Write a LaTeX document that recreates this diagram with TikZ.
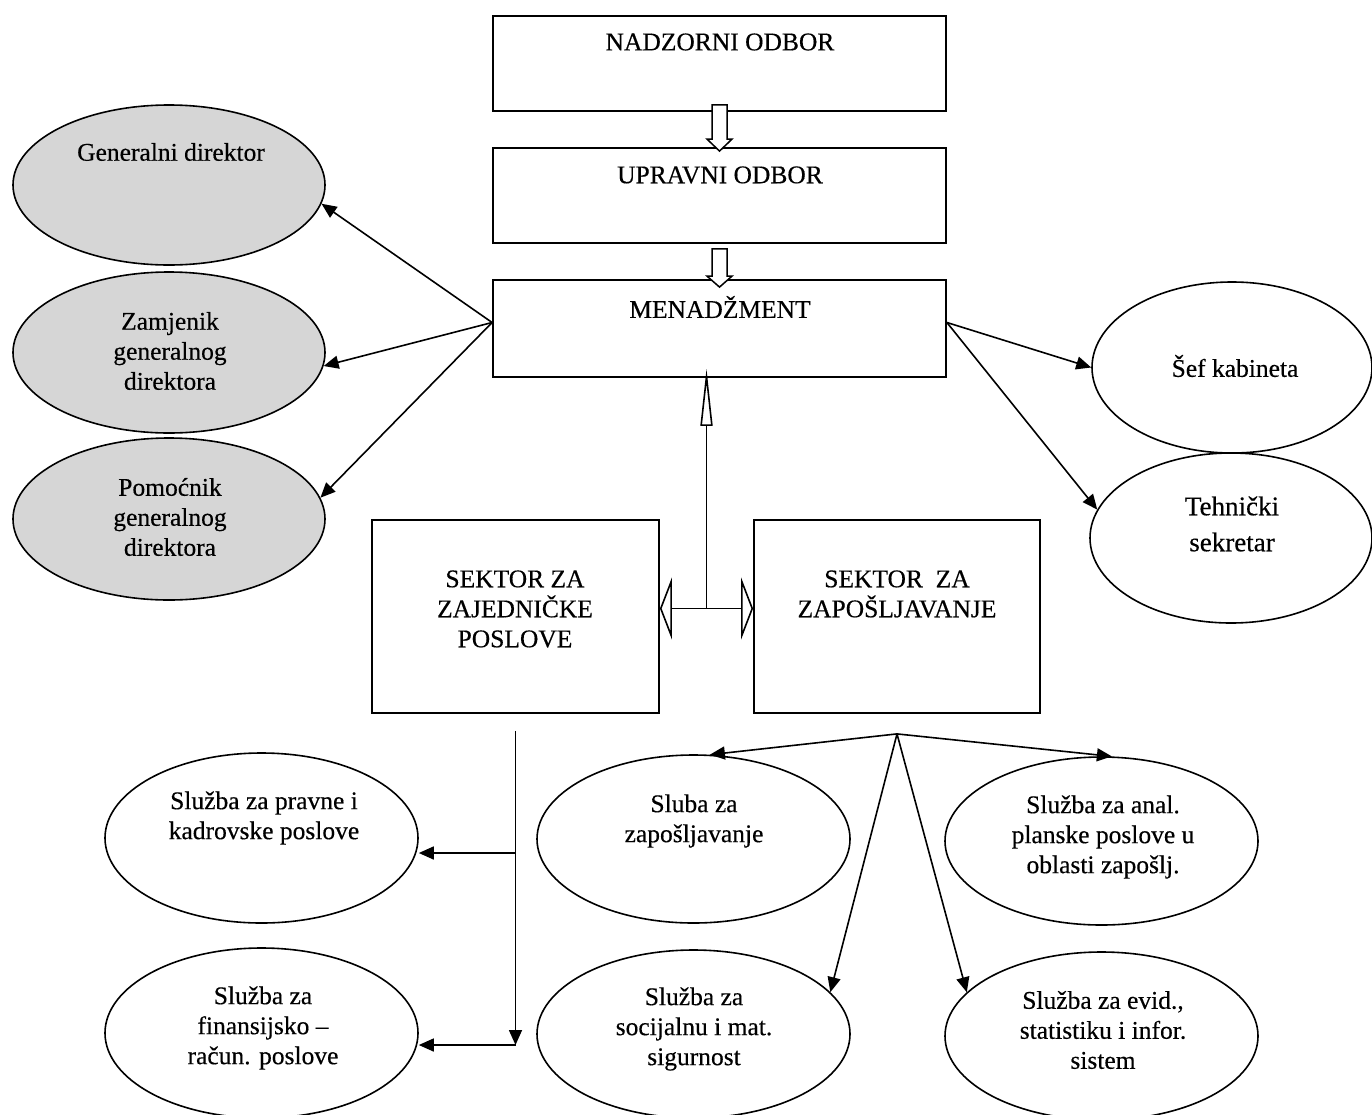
\documentclass[tikz,border=0pt]{standalone}
\usepackage{fontspec}
\setmainfont{Liberation Serif}[FakeBold=0.35]
\usetikzlibrary{arrows.meta,calc,shapes.geometric}
\begin{document}
\begin{tikzpicture}[x=1pt,y=-1pt,
  box/.style={draw, line width=1.8pt, fill=white, inner sep=0pt},
  oval/.style={ellipse, draw, line width=1.6pt, inner sep=0pt},
  shaded/.style={oval, fill=black!16},
  plain/.style={oval, fill=white},
  txt/.style={font=\fontsize{25.5}{30}\selectfont, align=center, inner sep=0pt},
  conn/.style={line width=1.6pt, -{Triangle[length=15pt,width=13pt]}},
  hollow/.style={draw, line width=1.5pt, fill=white, line join=miter},
  openline/.style={line width=1.6pt},
]
\useasboundingbox (0,0) rectangle (1372,1114);

% boxes
\node[box, minimum width=453pt, minimum height=95pt] (nad) at (719.5,63.5) {};
\node[box, minimum width=453pt, minimum height=95pt] (up) at (719.5,195.5) {};
\node[box, minimum width=453pt, minimum height=97pt] (mg) at (719.5,328.5) {};
\node[box, minimum width=287pt, minimum height=193pt] (zaj) at (515.5,616.5) {};
\node[box, minimum width=286pt, minimum height=193pt] (zap) at (897,616.5) {};

% ellipses
\node[shaded, minimum width=312pt, minimum height=160pt] (gd) at (169,185) {};
\node[shaded, minimum width=312pt, minimum height=161pt] (gz) at (169,352.5) {};
\node[shaded, minimum width=312pt, minimum height=162pt] (gp) at (169,519) {};
\node[plain, minimum width=280pt, minimum height=171pt] (sk) at (1232,367.5) {};
\node[plain, minimum width=282pt, minimum height=170pt] (ts) at (1231,538) {};
\node[plain, minimum width=313pt, minimum height=170pt] (pr) at (261.5,838) {};
\node[plain, minimum width=313pt, minimum height=170pt] (fi) at (261.5,1033) {};
\node[plain, minimum width=313pt, minimum height=168pt] (sz) at (693.5,839) {};
\node[plain, minimum width=313pt, minimum height=168pt] (ss) at (693.5,1034) {};
\node[plain, minimum width=313pt, minimum height=168pt] (an) at (1101.5,841) {};
\node[plain, minimum width=313pt, minimum height=168pt] (ev) at (1101.5,1036) {};

% texts
\node[txt] (tnad) at (720,42) {NADZORNI ODBOR};
\node[txt] (tup) at (720,175) {UPRAVNI ODBOR};
\node[txt] (tmg) at (720,307) {MENADŽMENT};
\node[txt] (tgd) at (171,152) {Generalni direktor};
\node[txt] (tgz) at (170,351) {Zamjenik\\generalnog\\direktora};
\node[txt] (tgp) at (170,517) {Pomoćnik\\generalnog\\direktora};
\node[txt] (tsk) at (1235,366) {Šef kabineta};
\node[txt, font=\fontsize{27}{36}\selectfont] (tts) at (1232,524) {Tehnički\\sekretar};
\node[txt] (tzaj) at (515,609) {SEKTOR ZA\\ZAJEDNIČKE\\POSLOVE};
\node[txt] (tzap) at (897,594) {SEKTOR\ \ ZA\\ZAPOŠLJAVANJE};
\node[txt] (tpr) at (264,818) {Služba za pravne i\\kadrovske poslove};
\node[txt] (tfi) at (263,1028) {Služba za\\finansijsko –\\račun. poslove};
\node[txt] (tsz) at (694,821) {Sluba za\\zapošljavanje};
\node[txt] (tss) at (694,1029) {Služba za\\socijalnu i mat.\\sigurnost};
\node[txt] (tan) at (1103,837) {Služba za anal.\\planske poslove u\\oblasti zapošlj.};
\node[txt] (tev) at (1103,1030) {Služba za evid.,\\statistiku i infor.\\sistem};

% hollow block arrows
\draw[hollow] ($(nad.south)+(-7.5,-7)$) -- ($(up.north)+(-7.5,-8)$) -- ($(up.north)+(-12.5,-8)$)
  -- ($(up.north)+(0,4)$) -- ($(up.north)+(12.5,-8)$) -- ($(up.north)+(7.5,-8)$)
  -- ($(nad.south)+(7.5,-7)$) -- cycle;
\draw[hollow] ($(up.south)+(-7.5,5)$) -- ($(mg.north)+(-7.5,-3)$) -- ($(mg.north)+(-12.5,-3)$)
  -- ($(mg.north)+(0,8)$) -- ($(mg.north)+(12.5,-3)$) -- ($(mg.north)+(7.5,-3)$)
  -- ($(up.south)+(7.5,5)$) -- cycle;

% management side arrows
\coordinate (ml) at ($(mg.west)+(0,-6)$);
\coordinate (mr) at ($(mg.east)+(0,-6)$);
\draw[conn] (ml) -- (gd.-7);
\draw[conn] (ml) -- (gz.-5);
\draw[conn] (ml) -- (gp.8);
\draw[conn] (mr) -- (sk.west);
\draw[conn] (mr) -- (ts.168);

% sector junction
\coordinate (jn) at ($(zaj.east)!.5!(zap.west)+(0,-8)$);
\draw[openline, -{Triangle[open, length=57pt, width=12pt]}, shorten >=-9pt] (jn) -- (jn |- mg.south);
\draw[openline, -{Triangle[open, length=12pt, width=62pt]}] (jn) -- (jn -| zaj.east);
\draw[openline, -{Triangle[open, length=12pt, width=62pt]}] (jn) -- (jn -| zap.west);

% left services
\coordinate (vs) at ($(zaj.south)+(0,17)$);
\coordinate (ve) at ($(zaj.south |- fi.east)+(0,12)$);
\coordinate (b1) at ($(zaj.south |- pr.east)+(0,15)$);
\draw[conn] (vs) -- (ve);
\draw[conn] (b1) -- (b1 -| pr.east);
\draw[conn] (ve) -- (ve -| fi.east);

% right services fan
\coordinate (fan) at ($(zap.south)+(0,20)$);
\draw[conn] (fan) -- (sz.79);
\draw[conn] (fan) -- (an.83);
\draw[conn] (fan) -- (ss.17);
\draw[conn] (fan) -- (ev.162);
\end{tikzpicture}
\end{document}
